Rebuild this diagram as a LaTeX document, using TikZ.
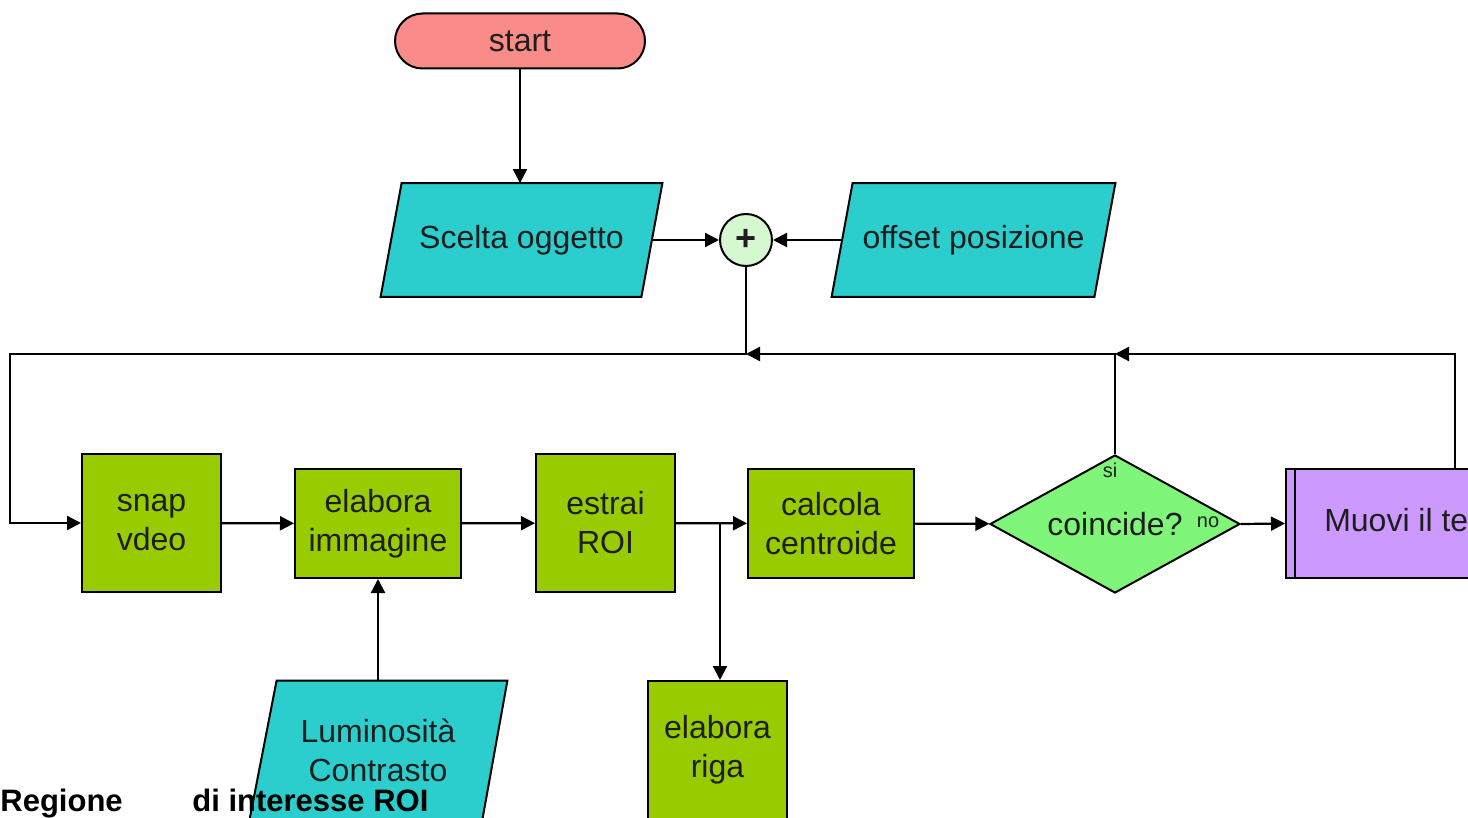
\documentclass[tikz,border=0pt]{standalone}
\usepackage{fontspec}
\setmainfont{Liberation Sans}
\usetikzlibrary{shapes.geometric,arrows.meta,backgrounds}
\definecolor{salmon}{HTML}{F98B88}
\definecolor{cyanio}{HTML}{2BCDCD}
\definecolor{boxgreen}{HTML}{99CC00}
\definecolor{diamg}{HTML}{7FF57A}
\definecolor{lightg}{HTML}{D5F8D0}
\definecolor{lilac}{HTML}{CC99FF}
\definecolor{txt}{HTML}{1E1E1E}
\begin{document}
\begin{tikzpicture}[x=0.5pt,y=-0.5pt,
  every node/.style={font=\fontsize{16}{19.5}\selectfont, text=txt, align=center},
  box/.style={draw=black, line width=1pt, fill=boxgreen, rectangle, inner sep=0pt},
  paratext/.style={rectangle, inner sep=0pt},
  parashape/.style={draw=black, line width=1pt, fill=cyanio},
  conn/.style={line width=1.1pt, -{Triangle[length=7pt,width=7pt]}},
  plain/.style={line width=1pt}]
\useasboundingbox (0,0) rectangle (1468,818);
\clip (0,0) rectangle (1468,818);

% nodes
\node[draw=black, line width=1pt, fill=salmon, rounded corners=13.75pt, minimum width=125pt, minimum height=27.5pt] (start) at (520,41) {start};
\node[paratext, minimum width=140.5pt, minimum height=56.5pt] (scelta) at (521.5,240) {Scelta oggetto};
\node[paratext, minimum width=141.5pt, minimum height=56.5pt] (offset) at (973.5,240) {offset posizione};
\node[circle, draw=black, line width=1pt, fill=lightg, minimum size=26pt, inner sep=0pt, font=\bfseries\fontsize{18}{18}\selectfont] (plus) at (746,240) {+};

\node[box, minimum width=69.5pt, minimum height=69pt] (snap) at (151.5,523) {snap\\vdeo};
\node[box, minimum width=83pt, minimum height=54.5pt] (elab) at (378,523.5) {elabora\\immagine};
\node[box, minimum width=69.5pt, minimum height=69pt] (estrai) at (605.5,523) {estrai\\ROI};
\node[box, minimum width=83pt, minimum height=54.5pt] (calc) at (831,523.5) {calcola\\centroide};
\node[diamond, draw=black, line width=1pt, fill=diamg, aspect=1.8, inner sep=0pt, minimum width=125pt, minimum height=69pt] (diam) at (1115,524) {coincide?};
\node[draw=black, line width=1pt, fill=lilac, rectangle, inner sep=0pt, minimum width=169pt, minimum height=54.5pt] (muovi) at (1455,523.5) {Muovi il telescopio};
\draw[plain] ([xshift=5pt]muovi.north west) -- ([xshift=5pt]muovi.south west);

\node[box, minimum width=69.5pt, minimum height=69pt] (riga) at (717.5,750) {elabora\\riga};
\node[paratext, minimum width=126pt, minimum height=69pt] (lumin) at (378,750) {Luminosità\\Contrasto};

% parallelogram outlines behind their texts
\begin{scope}[on background layer]
\draw[parashape] ([xshift=10.5pt]scelta.north west) -- (scelta.north east) -- ([xshift=-10.5pt]scelta.south east) -- (scelta.south west) -- cycle;
\draw[parashape] ([xshift=10.5pt]offset.north west) -- (offset.north east) -- ([xshift=-10.5pt]offset.south east) -- (offset.south west) -- cycle;
\draw[parashape] ([xshift=12.5pt]lumin.north west) -- ([xshift=1.5pt]lumin.north east) -- ([xshift=-11pt]lumin.south east) -- ([xshift=-1pt]lumin.south west) -- cycle;
\end{scope}

\node[font=\fontsize{10}{10}\selectfont, inner sep=0pt] (si) at (1110,470) {si};
\node[font=\fontsize{10}{10}\selectfont, inner sep=0pt] (no) at (1208,522) {no};

% coordinates
\coordinate (j1) at (746,354);
\coordinate (j2) at (1115,354);
\coordinate (c1) at (10,354);
\coordinate (c3) at (1455,354);
\coordinate (b) at (720,523.5);

% connectors
\draw[conn] (start.south) -- (start.south |- scelta.north);
\draw[conn] ([xshift=-5.25pt]scelta.east) -- (plus.west);
\draw[conn] ([xshift=5.25pt]offset.west) -- (plus.east);
\draw[conn] (plus.south) -- (j1) -- (c1) |- (snap.west);
\draw[conn] (diam.north) -- (j2) -- (j1);
\draw[conn] (muovi.north) -- (c3) -- (j2);
\draw[conn] (snap) -- (elab);
\draw[conn] (elab) -- (estrai);
\draw[conn] (estrai) -- (calc);
\draw[conn] (calc) -- (diam);
\draw[conn] (diam.east) -- (muovi.west);
\draw[conn] (b) -- (b |- riga.north);
\draw[conn] (elab.south |- lumin.north) -- (elab.south);

% caption
\node[anchor=base west, font=\bfseries\fontsize{15.5}{16}\selectfont, text=black, inner sep=0pt] (r1) at (0,811) {Regione};
\node[anchor=base west, font=\bfseries\fontsize{15.5}{16}\selectfont, text=black, inner sep=0pt] (r2) at (192,811) {di interesse ROI};
\end{tikzpicture}
\end{document}
